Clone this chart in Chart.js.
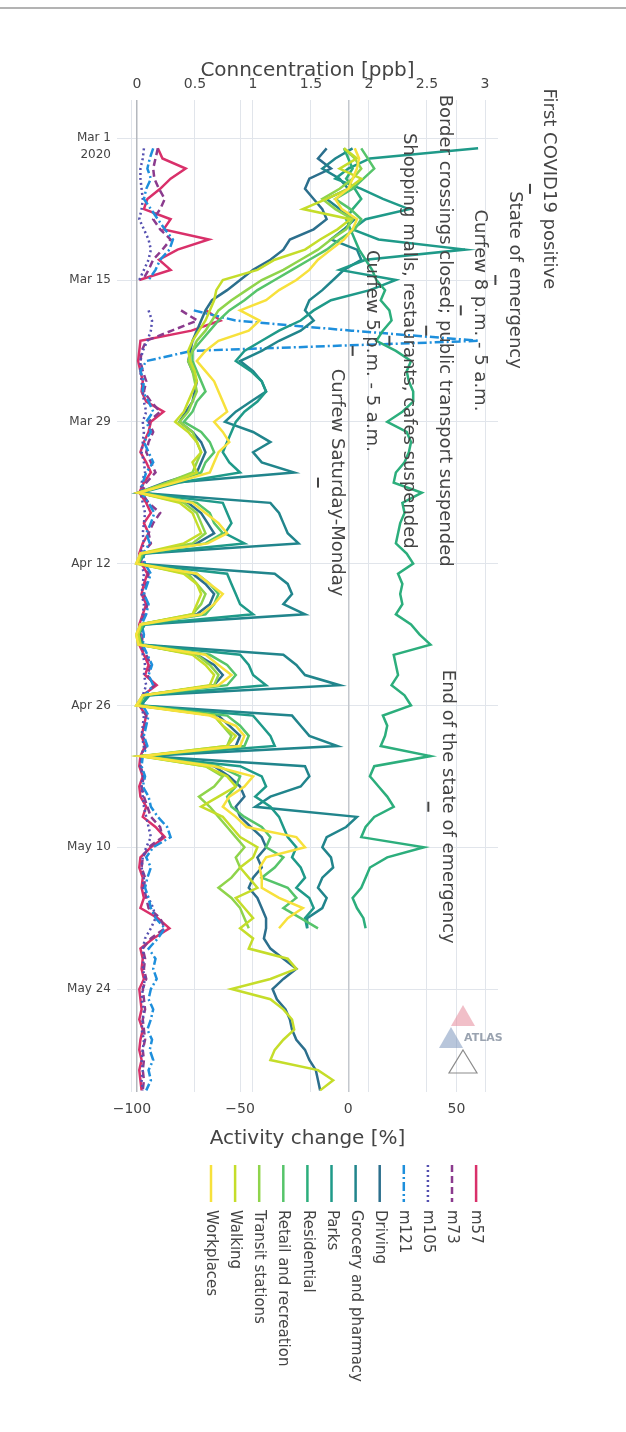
<!DOCTYPE html>
<html lang="en">
<head>
    <meta charset="UTF-8">
    <title>Activity change and concentration</title>
    <script src="https://cdn.jsdelivr.net/npm/chart.js"></script>
    <style>
        html, body { margin: 0; padding: 0; background: #fff; }
        canvas { display: block; }
    </style>
</head>
<body>
    <canvas id="chart" width="626" height="1432"></canvas>

    <script>
        // days since Mar 1 2020
        const days = [];
        for (let d = 1; d <= 94; d++) days.push(d);

        const tickDays = [0, 14, 28, 42, 56, 70, 84];
        const tickLabels = ["Mar 1", "Mar 15", "Mar 29", "Apr 12", "Apr 26", "May 10", "May 24"];
        const activityTicks = [-100, -50, 0, 50];
        const concTicks = [0, 0.5, 1, 1.5, 2, 2.5, 3];

        // activity change [%] (Google mobility ends mid May, Apple continues)
        const workplaces = [3, 5, 4, 2, 0, -6, -3, 4, 2, -2, -8, -14, -18, -24,
            -32, -38, -50, -41, -46, -60, -66, -70, -66, -62, -60, -58, -56, -62,
            -58, -55, -60, -62, -64, -80, -97, -72, -66, -60, -56, -65, -96, -98,
            -70, -64, -58, -62, -68, -96, -98, -97, -66, -60, -54, -60, -95, -98,
            -64, -52, -48, -50, -96, -62, -44, -48, -55, -58, -52, -47, -24, -20,
            -38, -41, -40, -40, -32, -21, -28, -32];
        const walking = [-2, 4, -4, 6, 0, -10, -21, 1, -5, -13, -20, -34, -42, -58,
            -61, -62, -64, -66, -69, -72, -74, -73, -71, -70, -72, -74, -76, -80,
            -74, -70, -68, -72, -70, -82, -97, -78, -72, -70, -68, -76, -96, -97,
            -76, -70, -68, -70, -72, -96, -97, -96, -72, -66, -62, -64, -95, -97,
            -62, -58, -52, -56, -95, -66, -56, -52, -60, -68, -58, -54, -50, -42,
            -44, -50, -46, -42, -52, -48, -44, -50, -44, -46, -28, -24, -36, -54,
            -36, -30, -26, -25, -30, -34, -36, -14, -7, -13];
        const transit = [-2, 3, 6, 2, -4, -12, -6, 2, -1, -8, -14, -22, -30, -40,
            -47, -54, -60, -63, -66, -70, -72, -74, -72, -71, -70, -72, -74, -78,
            -72, -70, -68, -70, -72, -84, -97, -76, -70, -68, -66, -72, -96, -98,
            -74, -70, -66, -68, -72, -96, -98, -97, -70, -64, -60, -62, -95, -98,
            -62, -58, -54, -56, -96, -66, -58, -62, -69, -64, -60, -56, -52, -48,
            -52, -50, -54, -60, -54, -50, -48, -46];
        const retail = [6, 9, 12, 7, 2, -6, 1, 6, 3, -4, -10, -18, -26, -34,
            -42, -48, -55, -60, -64, -68, -72, -72, -70, -68, -66, -70, -72, -76,
            -68, -64, -62, -66, -68, -82, -96, -70, -64, -62, -58, -66, -95, -97,
            -70, -64, -60, -62, -66, -95, -97, -96, -64, -56, -52, -56, -94, -97,
            -56, -50, -46, -48, -95, -60, -50, -52, -56, -54, -48, -40, -36, -38,
            -30, -34, -40, -28, -24, -30, -22, -14];
        const residential = [-2, 0, 2, -1, 3, 6, 2, -1, 1, 3, 5, 8, 11, 13,
            17, 15, 19, 20, 16, 13, 22, 29, 27, 28, 30, 30, 25, 18,
            27, 29, 28, 26, 22, 21, 34, 25, 26, 24, 23, 22, 27, 30,
            23, 25, 24, 25, 22, 29, 33, 38, 21, 22, 23, 20, 26, 29,
            16, 18, 17, 15, 38, 12, 10, 14, 18, 21, 12, 8, 6, 35,
            18, 10, 8, 6, 2, 4, 7, 8];
        const parks = [60, 10, 0, -6, 6, 16, 28, 8, 2, 14, 54, 8, -4, 22,
            10, -8, -16, -22, -32, -40, -48, -52, -45, -40, -38, -42, -48, -52,
            -54, -56, -58, -55, -50, -78, -96, -58, -56, -54, -57, -48, -94, -97,
            -56, -54, -52, -50, -44, -94, -97, -95, -50, -46, -44, -38, -92, -96,
            -44, -40, -36, -34, -94, -50, -40, -38, -43, -36, -32, -30, -28, -24,
            -26, -22, -20, -24, -18, -16, -20, -19];
        const grocery = [2, -6, -12, -4, 0, -10, -4, 3, -2, -8, 4, 6, -2, -7,
            -12, -18, -20, -16, -22, -32, -40, -50, -44, -40, -38, -45, -52, -57,
            -44, -36, -44, -40, -25, -80, -97, -36, -32, -30, -28, -23, -94, -97,
            -34, -28, -26, -30, -20, -94, -97, -95, -30, -24, -20, -4, -92, -96,
            -26, -22, -18, -5, -94, -20, -18, -22, -36, -43, 4, -1, -10, -12,
            -8, -7, -12, -14, -10, -12, -19, -19];
        const driving = [-10, -14, -8, -18, -20, -16, -12, -10, -16, -27, -30, -36, -44, -50,
            -56, -63, -66, -68, -70, -72, -73, -74, -72, -70, -71, -72, -75, -78,
            -72, -68, -66, -68, -70, -85, -97, -74, -68, -65, -62, -70, -96, -97,
            -72, -66, -62, -64, -70, -96, -97, -96, -70, -62, -58, -62, -95, -97,
            -60, -55, -50, -52, -95, -62, -55, -50, -48, -52, -50, -45, -40, -38,
            -42, -40, -44, -46, -42, -40, -38, -38, -39, -36, -30, -24, -30, -35,
            -33, -29, -27, -26, -24, -20, -18, -15, -14, -13];

        // concentration [ppb]
        const m121 = [0.14, 0.11, 0.09, 0.12, 0.08, 0.06, 0.12, 0.18, 0.24, 0.31, 0.28, 0.2, 0.16, 0.1,
            null, null, 0.49, 0.85, 1.85, 2.95, 0.47, 0.08, 0.03, 0.06, 0.05, 0.1, 0.14, 0.08,
            0.12, 0.06, 0.1, 0.14, 0.08, 0.05, 0.04, 0.1, 0.15, 0.12, 0.08, 0.11, 0.05, 0.07,
            0.12, 0.09, 0.06, 0.1, 0.08, 0.04, 0.06, 0.05, 0.09, 0.13, 0.1, 0.14, 0.07, 0.05,
            0.1, 0.08, 0.06, 0.09, 0.05, 0.04, 0.07, 0.05, 0.1, 0.12, 0.18, 0.26, 0.29, 0.14,
            0.08, 0.12, 0.09, 0.07, 0.1, 0.12, 0.16, 0.24, 0.18, 0.1, 0.16, 0.14, 0.17, 0.12,
            0.1, 0.14, 0.12, 0.09, 0.13, 0.11, 0.14, 0.1, 0.12, 0.08];
        const m105 = [0.06, 0.05, 0.03, 0.03, 0.04, 0.05, 0.04, 0.02, 0.06, 0.1, 0.12, 0.1, 0.06, 0.02,
            null, null, 0.1, 0.13, 0.12, 0.09, 0.05, 0.03, 0.03, 0.04, 0.05, 0.06, 0.08, 0.05,
            0.06, 0.05, 0.04, 0.06, 0.07, 0.04, 0.03, 0.05, 0.07, 0.06, 0.05, 0.06, 0.03, 0.04,
            0.06, 0.05, 0.04, 0.06, 0.05, 0.03, 0.03, 0.04, 0.05, 0.07, 0.06, 0.08, 0.05, 0.03,
            0.06, 0.05, 0.04, 0.06, 0.04, 0.03, 0.05, 0.04, 0.05, 0.06, 0.08, 0.1, 0.12, 0.08,
            0.05, 0.04, 0.06, 0.05, 0.1, 0.14, 0.16, 0.12, 0.07, 0.05, 0.06, 0.05, 0.07, 0.05,
            0.04, 0.06, 0.05, 0.04, 0.06, 0.05, 0.04, 0.05, 0.04, 0.05];
        const m73 = [0.18, 0.16, 0.14, 0.15, 0.19, 0.24, 0.2, 0.14, 0.2, 0.29, 0.22, 0.14, 0.1, 0.05,
            null, null, 0.38, 0.52, 0.3, 0.08, 0.04, 0.03, 0.05, 0.08, 0.06, 0.12, 0.2, 0.1,
            0.14, 0.1, 0.08, 0.12, 0.16, 0.08, 0.04, 0.1, 0.2, 0.14, 0.1, 0.12, 0.05, 0.06,
            0.1, 0.08, 0.06, 0.09, 0.07, 0.03, 0.05, 0.04, 0.08, 0.12, 0.09, 0.15, 0.06, 0.04,
            0.08, 0.07, 0.05, 0.08, 0.04, 0.03, 0.06, 0.04, 0.06, 0.09, 0.12, 0.2, 0.22, 0.1,
            0.05, 0.04, 0.07, 0.06, 0.08, 0.1, 0.2, 0.24, 0.12, 0.05, 0.07, 0.06, 0.08, 0.05,
            0.06, 0.07, 0.05, 0.06, 0.07, 0.05, 0.06, 0.05, 0.06, 0.05];
        const m57 = [0.18, 0.22, 0.42, 0.29, 0.2, 0.09, 0.06, 0.29, 0.23, 0.62, 0.35, 0.19, 0.29, 0.02,
            null, null, 0.6, 0.72, 0.47, 0.03, 0.02, 0.01, 0.03, 0.05, 0.04, 0.08, 0.23, 0.12,
            0.1, 0.06, 0.03, 0.08, 0.12, 0.06, 0.02, 0.08, 0.12, 0.06, 0.1, 0.05, 0.02, 0.04,
            0.09, 0.06, 0.04, 0.08, 0.05, 0.02, 0.03, 0.02, 0.06, 0.1, 0.07, 0.17, 0.05, 0.02,
            0.08, 0.06, 0.04, 0.07, 0.03, 0.02, 0.05, 0.02, 0.03, 0.08, 0.05, 0.16, 0.24, 0.12,
            0.03, 0.02, 0.05, 0.04, 0.06, 0.03, 0.18, 0.28, 0.14, 0.03, 0.05, 0.04, 0.06, 0.02,
            0.03, 0.04, 0.02, 0.05, 0.03, 0.02, 0.04, 0.02, 0.03, 0.04];

        // events: day, activity % where the marker sits, label
        const eventDays = [5, 14, 17, 19, 20, 21, 34, 66];
        const eventPos = [84, 68, 52, 36, 19, 2, -14, 37];
        const eventText = [
            "First COVID19 positive",
            "State of emergency",
            "Curfew 8 p.m. - 5 a.m.",
            "Border crossings closed; public transport suspended",
            "Shopping malls, restaurants, cafes suspended",
            "Curfew 5 p.m. - 5 a.m.",
            "Curfew Saturday-Monday",
            "End of the state of emergency"
        ];

        const FONT = "'DejaVu Sans', Verdana, sans-serif";
        const TEXT = "#444";
        const GRID = "#e1e5eb";

        function pts(vals) {
            return vals.map((v, i) => ({ x: v, y: days[i] }));
        }

        function series(label, vals, color, axis, dash) {
            return {
                label: label,
                data: pts(vals),
                xAxisID: axis,
                yAxisID: "y",
                borderColor: color,
                backgroundColor: color,
                borderWidth: 2.5,
                borderDash: dash || [],
                pointRadius: 0,
                showLine: true,
                tension: 0
            };
        }

        const datasets = [
            series("Workplaces", workplaces, "#f7e13c", "x"),
            series("Walking", walking, "#c5dd2a", "x"),
            series("Transit stations", transit, "#8fd44b", "x"),
            series("Retail and recreation", retail, "#56c46a", "x"),
            series("Residential", residential, "#2cae7c", "x"),
            series("Parks", parks, "#1f9a89", "x"),
            series("Grocery and pharmacy", grocery, "#21858c", "x"),
            series("Driving", driving, "#2c6f8d", "x"),
            series("m121", m121, "#1e8fdc", "x2", [9, 3, 2, 3]),
            series("m105", m105, "#5550b0", "x2", [2, 3]),
            series("m73", m73, "#8b3b8e", "x2", [7, 4]),
            series("m57", m57, "#d9306a", "x2")
        ];

        const extras = {
            id: "extras",
            afterDraw(chart) {
                const ctx = chart.ctx;
                const xs = chart.scales.x, ys = chart.scales.y;
                const area = chart.chartArea;
                const midX = (area.left + area.right) / 2;
                ctx.save();

                // thin rule at the very top
                ctx.strokeStyle = "#9a9a9a";
                ctx.lineWidth = 1.5;
                ctx.beginPath();
                ctx.moveTo(0, 8);
                ctx.lineTo(626, 8);
                ctx.stroke();

                // axis titles
                ctx.fillStyle = TEXT;
                ctx.font = "20px " + FONT;
                ctx.textAlign = "center";
                ctx.textBaseline = "middle";
                ctx.fillText("Conncentration [ppb]", midX, 71);
                ctx.fillText("Activity change [%]", midX, 1139);

                // year under the first date tick
                ctx.font = "12px " + FONT;
                ctx.textAlign = "right";
                ctx.fillText("2020", area.left - 6, ys.getPixelForValue(0) + 17);

                // event annotations
                for (let i = 0; i < eventDays.length; i++) {
                    const px = xs.getPixelForValue(eventPos[i]);
                    const py = ys.getPixelForValue(eventDays[i]);
                    ctx.strokeStyle = TEXT;
                    ctx.lineWidth = 2;
                    ctx.beginPath();
                    ctx.moveTo(px, py - 5);
                    ctx.lineTo(px, py + 5);
                    ctx.stroke();
                    ctx.save();
                    ctx.translate(px + 19, py);
                    ctx.rotate(Math.PI / 2);
                    ctx.font = "18px " + FONT;
                    ctx.textAlign = "center";
                    ctx.textBaseline = "middle";
                    ctx.fillText(eventText[i], 0, 0);
                    ctx.restore();
                }

                // ATLAS mark
                ctx.globalAlpha = 0.55;
                ctx.fillStyle = "#e58a9a";
                ctx.beginPath();
                ctx.moveTo(463, 1005); ctx.lineTo(475, 1026); ctx.lineTo(451, 1026); ctx.closePath();
                ctx.fill();
                ctx.fillStyle = "#7d98bd";
                ctx.beginPath();
                ctx.moveTo(451, 1027); ctx.lineTo(463, 1048); ctx.lineTo(439, 1048); ctx.closePath();
                ctx.fill();
                ctx.globalAlpha = 1;
                ctx.strokeStyle = "#8c8c8c";
                ctx.lineWidth = 1.2;
                ctx.beginPath();
                ctx.moveTo(463, 1050); ctx.lineTo(477, 1073); ctx.lineTo(449, 1073); ctx.closePath();
                ctx.stroke();
                ctx.fillStyle = "#9aa3b0";
                ctx.font = "bold 11px " + FONT;
                ctx.textAlign = "left";
                ctx.fillText("ATLAS", 464, 1038);

                // legend, rotated labels
                const lx0 = 211, lstep = 24.1;
                chart.data.datasets.forEach((ds, i) => {
                    const lx = lx0 + i * lstep;
                    ctx.strokeStyle = ds.borderColor;
                    ctx.lineWidth = 2.5;
                    ctx.setLineDash(ds.borderDash);
                    ctx.beginPath();
                    ctx.moveTo(lx, 1165);
                    ctx.lineTo(lx, 1202);
                    ctx.stroke();
                    ctx.setLineDash([]);
                    ctx.save();
                    ctx.translate(lx, 1210);
                    ctx.rotate(Math.PI / 2);
                    ctx.fillStyle = TEXT;
                    ctx.font = "15px " + FONT;
                    ctx.textAlign = "left";
                    ctx.textBaseline = "middle";
                    ctx.fillText(ds.label, 0, 0);
                    ctx.restore();
                });
                ctx.restore();
            }
        };

        new Chart(document.getElementById("chart"), {
            type: "scatter",
            data: { datasets: datasets },
            plugins: [extras],
            options: {
                responsive: false,
                animation: false,
                devicePixelRatio: 1,
                layout: { padding: { left: 0, right: 128, top: 0, bottom: 0 } },
                plugins: { legend: { display: false }, tooltip: { enabled: false } },
                scales: {
                    y: {
                        type: "linear",
                        position: "left",
                        reverse: true,
                        min: -3.77,
                        max: 94.16,
                        afterBuildTicks: s => { s.ticks = tickDays.map(v => ({ value: v })); },
                        afterFit: s => { s.width = 117; },
                        ticks: {
                            callback: (v, i) => tickLabels[i],
                            color: TEXT,
                            font: { family: FONT, size: 12 },
                            padding: 6
                        },
                        grid: { color: GRID, drawTicks: false },
                        border: { display: false }
                    },
                    x: {
                        type: "linear",
                        position: "bottom",
                        min: -106.9,
                        max: 69.2,
                        afterBuildTicks: s => { s.ticks = activityTicks.map(v => ({ value: v })); },
                        afterFit: s => { s.height = 340; },
                        ticks: {
                            callback: v => (v < 0 ? "\u2212" + Math.abs(v) : String(v)),
                            color: TEXT,
                            font: { family: FONT, size: 14 },
                            padding: 9,
                            maxRotation: 0
                        },
                        grid: {
                            color: c => (c.tick && c.tick.value === 0 ? "#c4c8ce" : GRID),
                            lineWidth: c => (c.tick && c.tick.value === 0 ? 1.5 : 1),
                            drawTicks: false
                        },
                        border: { display: false }
                    },
                    x2: {
                        type: "linear",
                        position: "top",
                        min: -0.172,
                        max: 3.112,
                        afterBuildTicks: s => { s.ticks = concTicks.map(v => ({ value: v })); },
                        afterFit: s => { s.height = 100; },
                        ticks: {
                            callback: v => String(v),
                            color: TEXT,
                            font: { family: FONT, size: 14 },
                            padding: 7,
                            maxRotation: 0
                        },
                        grid: {
                            color: c => (c.tick && c.tick.value === 0 ? "#b4b8be" : GRID),
                            lineWidth: c => (c.tick && c.tick.value === 0 ? 1.5 : 1),
                            drawTicks: false
                        },
                        border: { display: false }
                    }
                }
            }
        });
    </script>
</body>
</html>
